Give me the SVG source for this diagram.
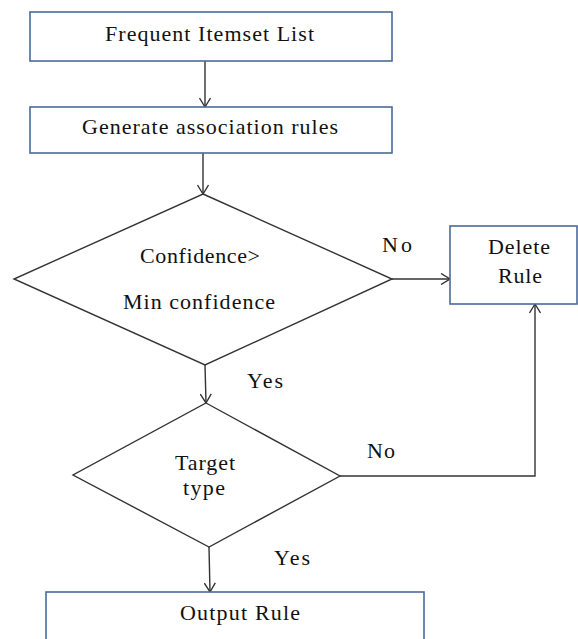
<svg xmlns="http://www.w3.org/2000/svg" width="578" height="639" viewBox="0 0 578 639">
<defs>
<style>
.box{fill:#fff;stroke:#4a6a9a;stroke-width:1.6}
.dia{fill:#fff;stroke:#333;stroke-width:1.4}
.ln{fill:none;stroke:#333;stroke-width:1.4}
.t{font-family:'Liberation Serif','DejaVu Serif',serif;font-size:22px;fill:#111}
</style>
<marker id="ah" markerWidth="12" markerHeight="12" refX="10" refY="6" orient="auto" markerUnits="userSpaceOnUse">
<path d="M1,0.5 L10,6 L1,11.5" fill="none" stroke="#333" stroke-width="1.4"/>
</marker>
</defs>
<rect width="578" height="639" fill="#fff"/>
<g id="connectors">
<line class="ln" x1="205" y1="61" x2="205" y2="107" marker-end="url(#ah)"/>
<line class="ln" x1="203" y1="153" x2="203" y2="194" marker-end="url(#ah)"/>
<line class="ln" x1="392" y1="279" x2="450" y2="279" marker-end="url(#ah)"/>
<line class="ln" x1="205" y1="365" x2="206" y2="403" marker-end="url(#ah)"/>
<polyline class="ln" points="340,476 535,476 535,304" marker-end="url(#ah)"/>
<line class="ln" x1="209" y1="547" x2="210" y2="592" marker-end="url(#ah)"/>
<text class="t" font-family="Liberation Serif" x="382" y="252" textLength="30">No</text>
<text class="t" font-family="Liberation Serif" x="247" y="388" textLength="36">Yes</text>
<text class="t" font-family="Liberation Serif" x="367" y="458" textLength="28">No</text>
<text class="t" font-family="Liberation Serif" x="274" y="565" textLength="36">Yes</text>
</g>
<g id="frequent">
<rect class="box" x="30" y="12" width="362" height="49"/>
<text class="t" font-family="Liberation Serif" x="105" y="41" textLength="209">Frequent Itemset List</text>
</g>
<g id="generate">
<rect class="box" x="30" y="107" width="362" height="46"/>
<text class="t" font-family="Liberation Serif" x="82" y="134" textLength="256">Generate association  rules</text>
</g>
<g id="confidence">
<polygon class="dia" points="203,194 392,279 205,365 14,279"/>
<text class="t" font-family="Liberation Serif" x="140" y="263" textLength="120">Confidence&gt;</text>
<text class="t" font-family="Liberation Serif" x="123" y="309" textLength="152">Min  confidence</text>
</g>
<g id="delete">
<rect class="box" x="450" y="226" width="127" height="78"/>
<text class="t" font-family="Liberation Serif" x="488" y="254" textLength="62">Delete</text>
<text class="t" font-family="Liberation Serif" x="498" y="283" textLength="44">Rule</text>
</g>
<g id="target">
<polygon class="dia" points="206,403 340,476 209,547 73,475"/>
<text class="t" font-family="Liberation Serif" x="175" y="470" textLength="60">Target</text>
<text class="t" font-family="Liberation Serif" x="183" y="495" textLength="42">type</text>
</g>
<g id="output">
<rect class="box" x="46" y="592" width="378" height="60"/>
<text class="t" font-family="Liberation Serif" x="180" y="620" textLength="120">Output Rule</text>
</g>
</svg>
